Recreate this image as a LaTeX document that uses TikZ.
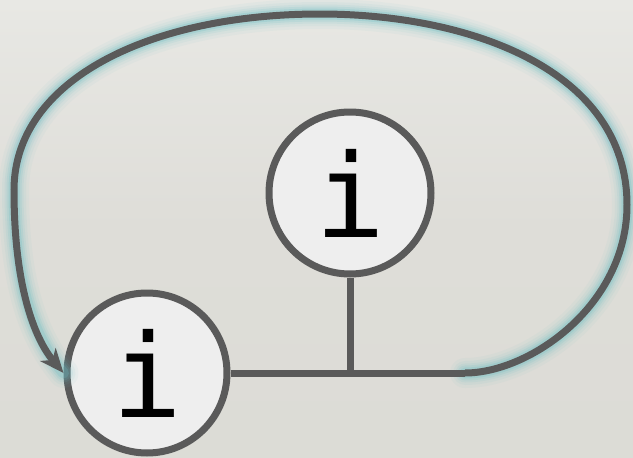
\documentclass[tikz,border=0pt]{standalone}
\usepackage{fontspec}
\newfontfamily\monofont{DejaVu Sans Mono}
\usetikzlibrary{arrows.meta}
\definecolor{bgtop}{RGB}{232,232,228}
\definecolor{bgmid}{RGB}{222,221,216}
\definecolor{bgbot}{RGB}{220,220,214}
\definecolor{linec}{RGB}{90,90,90}
\definecolor{fillc}{RGB}{238,238,238}
\definecolor{glowc}{RGB}{110,190,196}
\tikzset{
  infonode/.style={circle, draw=linec, line width=7pt, fill=fillc, inner sep=0pt,
    font=\monofont\fontsize{116}{116}\selectfont},
  wire/.style={draw=linec, line width=7pt},
  glowline/.style={draw=glowc, line cap=round},
}
\begin{document}
\begin{tikzpicture}[x=1pt, y=-1pt]
  % backdrop
  \shade[top color=bgtop, bottom color=bgbot, middle color=bgmid] (0,0) rectangle (633,458);
  \useasboundingbox (0,0) rectangle (633,458);

  % the two info circles
  \node[infonode, minimum size=160pt] (a) at (147,373) {i};
  \node[infonode, minimum size=162pt] (b) at (350,193) {i};

  % loop points
  \coordinate (p0) at (465,373);
  \coordinate (p1) at (627,205);
  \coordinate (p2) at (320,14);
  \coordinate (p3) at (14,190);
  \coordinate (j) at (350,373);

  % soft halo along the loop
  \foreach \w/\o in {30/0.06, 24/0.08, 19/0.11, 15/0.16, 11/0.25}{
    \draw[glowline, line width=\w pt, opacity=\o]
      (p0) .. controls (530,373) and (627,305) .. (p1)
      .. controls (627,70) and (470,14) .. (p2)
      .. controls (150,14) and (14,80) .. (p3)
      .. controls (14,285) and (34,338) .. (a.west);
  }

  % connectors
  \draw[wire] (a.east) -- (p0);
  \draw[wire] (b.south) -- (j);
  \draw[wire, -{Stealth[length=24pt, width=20pt, inset=7pt]}]
    (p0) .. controls (530,373) and (627,305) .. (p1)
    .. controls (627,70) and (470,14) .. (p2)
    .. controls (150,14) and (14,80) .. (p3)
    .. controls (14,285) and (34,338) .. (a.west);
\end{tikzpicture}
\end{document}
